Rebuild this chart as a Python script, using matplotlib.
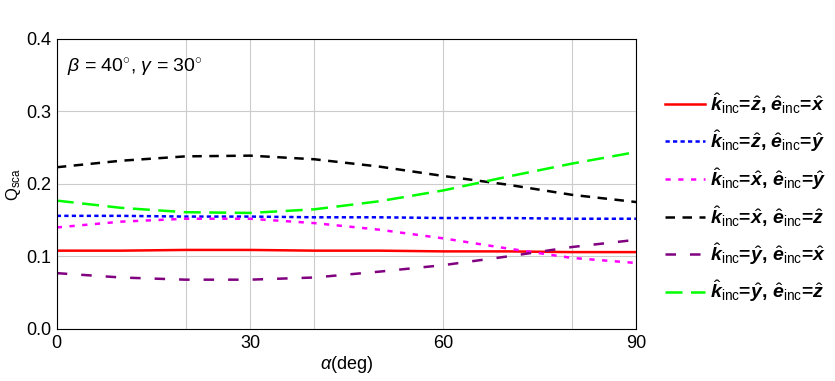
import numpy as np
import matplotlib
matplotlib.use('Agg')
from matplotlib import pyplot as plt

plt.rcParams['font.family'] = 'Liberation Sans'
plt.rcParams['mathtext.fontset'] = 'custom'
plt.rcParams['mathtext.rm'] = 'Liberation Sans'
plt.rcParams['mathtext.it'] = 'Liberation Sans:italic'
plt.rcParams['mathtext.bf'] = 'Liberation Sans:bold'
plt.rcParams['mathtext.bfit'] = 'Liberation Sans:italic:bold'

alpha = [0, 10, 20, 30, 40, 50, 60, 70, 80, 90]
q_red = [0.108, 0.108, 0.109, 0.109, 0.108, 0.108, 0.107, 0.107, 0.106, 0.106]
q_blue = [0.156, 0.156, 0.155, 0.155, 0.154, 0.154, 0.153, 0.153, 0.152, 0.152]
q_magenta = [0.140, 0.148, 0.152, 0.152, 0.146, 0.137, 0.125, 0.111, 0.098, 0.091]
q_black = [0.223, 0.232, 0.238, 0.239, 0.234, 0.224, 0.211, 0.199, 0.185, 0.175]
q_purple = [0.077, 0.071, 0.068, 0.068, 0.071, 0.079, 0.088, 0.100, 0.113, 0.123]
q_green = [0.177, 0.167, 0.161, 0.160, 0.165, 0.176, 0.191, 0.210, 0.228, 0.244]

def lab(k, e):
    return (r'$\hat{\mathbfit{k}}_{\mathrm{inc}}$=$\hat{\mathbfit{' + k + r'}}$, '
            r'$\hat{\mathbfit{e}}_{\mathrm{inc}}$=$\hat{\mathbfit{' + e + r'}}$')

series = [
    (q_red, '#ff0000', '-', lab('z', 'x')),
    (q_blue, '#0000ff', (0, (1.7, 1.3)), lab('z', 'y')),
    (q_magenta, '#ff00ff', (0, (2.1, 3.0)), lab('x', 'y')),
    (q_black, '#000000', (0, (3.8, 3.0)), lab('x', 'z')),
    (q_purple, '#800080', (0, (4.2, 5.6)), lab('y', 'x')),
    (q_green, '#00ff00', (0, (6.8, 3.4)), lab('y', 'z')),
]

fig = plt.figure(figsize=(8.35, 3.81), dpi=100)
ax = fig.add_axes([0.068, 0.1365, 0.694, 0.7615])

for y, c, ls, l in series:
    ax.plot(alpha, y, color=c, linestyle=ls, linewidth=1.8, label=l)

ax.set_xlim(0, 90)
ax.set_ylim(0, 0.4)
ax.set_xticks([0, 30, 60, 90])
ax.set_xticks([20, 40, 80], minor=True)
ax.set_yticks([0.0, 0.1, 0.2, 0.3, 0.4])
ax.set_yticklabels(['0.0', '0.1', '0.2', '0.3', '0.4'])
ax.grid(True, which='both', color='#cccccc', linewidth=0.8)
ax.tick_params(which='both', length=0, labelsize=13, pad=4)
for s in ax.spines.values():
    s.set_linewidth(0.8)

ax.set_xlabel(r'$\alpha$(deg)', fontsize=13, labelpad=2)
ax.set_ylabel(r'Q$_{\mathrm{sca}}$', fontsize=12, labelpad=2)
ax.text(0.018, 0.9, r'$\beta$ = 40$^{\circ}$, $\gamma$ = 30$^{\circ}$',
        transform=ax.transAxes, fontsize=14, va='center')

leg = ax.legend(loc='center left', bbox_to_anchor=(1.019, 0.453), frameon=False,
                prop={'weight': 'bold', 'size': 14}, handlelength=2.05,
                labelspacing=0.62, handletextpad=0.3)

fig.savefig('out.png', dpi=100)
